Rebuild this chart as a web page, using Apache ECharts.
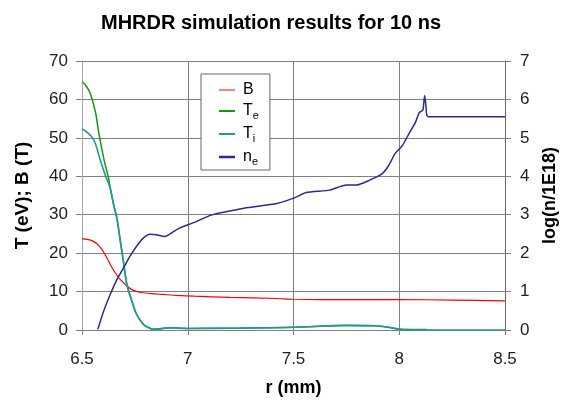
<!DOCTYPE html>
<html>
<head>
<meta charset="utf-8">
<script src="https://cdn.jsdelivr.net/npm/echarts@6/dist/echarts.min.js"></script>
<style>html,body{margin:0;padding:0;background:#fff;}#c{width:567px;height:402px;}</style>
</head>
<body>
<div id="c"></div>
<script>
// x ticks / axis ranges
var xTicks = [6.5, 7, 7.5, 8, 8.5];
var leftTicks = [0, 10, 20, 30, 40, 50, 60, 70];
var rightTicks = [0, 1, 2, 3, 4, 5, 6, 7];

// B (T)
var rB = [6.5,6.53,6.556,6.575,6.595,6.61,6.626,6.64,6.657,6.675,6.696,6.715,6.735,6.76,6.79,6.83,6.883,6.95,7.03,7.2,7.42,7.5,7.75,8.0,8.25,8.5];
var vB = [23.7,23.5,23.0,22.2,20.9,19.5,17.9,16.4,14.9,13.5,12.3,11.3,10.5,10.0,9.7,9.45,9.25,9.0,8.8,8.5,8.2,8.0,7.9,7.9,7.8,7.6];

// Te (eV)
var rTe = [6.5,6.52,6.54,6.564,6.579,6.603,6.626,6.634,6.65,6.665,6.68,6.695,6.712,6.736,6.758,6.79,6.815,6.836,6.87,6.914,7.0,7.25,7.5,7.75,7.89,7.95,7.98,8.03,8.13];
var vTe = [64.6,63.5,61.4,56.6,51.5,44.6,39.4,36.8,32.5,29.1,23.6,18.1,11.9,7.5,4.1,1.5,0.6,0.2,0.3,0.6,0.4,0.5,0.7,1.2,1.1,0.7,0.4,0.1,0.1];

// Ti (eV)
var rTi = [6.5,6.515,6.533,6.55,6.564,6.587,6.61,6.634,6.65,6.665,6.68,6.695,6.712,6.736,6.758,6.79,6.815,6.836,6.87,6.914,7.0,7.25,7.5,7.75,7.89,7.95,7.98,8.03,8.2,8.5];
var vTi = [52.3,51.8,51.0,50.0,48.4,44.1,40.3,36.8,32.5,29.1,23.6,18.1,11.9,7.5,4.1,1.5,0.6,0.2,0.3,0.6,0.4,0.5,0.7,1.2,1.1,0.7,0.4,0.1,0.0,0.0];

// ne, log(n/1E18)
var rNe = [6.575,6.603,6.634,6.665,6.696,6.727,6.758,6.79,6.82,6.852,6.89,6.922,6.96,7.007,7.04,7.11,7.266,7.422,7.51,7.56,7.67,7.75,7.796,7.86,7.92,7.95,7.98,8.015,8.045,8.077,8.095,8.107,8.113,8.12,8.125,8.13,8.138,8.3,8.5];
var vNe = [0.02,0.5,0.93,1.31,1.61,1.92,2.18,2.39,2.49,2.48,2.43,2.52,2.65,2.75,2.82,2.99,3.17,3.29,3.45,3.58,3.64,3.77,3.77,3.9,4.07,4.28,4.59,4.8,5.1,5.41,5.66,5.7,5.75,6.1,5.9,5.6,5.55,5.55,5.55];

function zip(a, b) { return a.map(function (x, i) { return [x, b[i]]; }); }

var legendNames = { 'B': '{m|B}', 'Te': '{m|T}{s|e}', 'Ti': '{m|T}{s|i}', 'ne': '{m|n}{s|e}' };
var FONT = 'Liberation Sans, Arial, sans-serif';

var chart = echarts.init(document.getElementById('c'));
var gridColor = '#808080';
chart.setOption({
  animation: false,
  backgroundColor: '#fff',
  title: {
    text: 'MHRDR simulation results for 10 ns',
    left: 96, top: 8,
    textStyle: { fontFamily: FONT, fontSize: 20, fontWeight: 'bold', color: '#000' }
  },
  grid: { left: 82, right: 58, top: 61, bottom: 70 },
  legend: {
    orient: 'vertical',
    left: 201, top: 74,
    padding: [8, 11, 3, 18],
    itemGap: 5,
    itemWidth: 16, itemHeight: 14,
    backgroundColor: '#fff',
    borderColor: '#666', borderWidth: 1, borderRadius: 0,
    formatter: function (n) { return legendNames[n]; },
    textStyle: {
      fontFamily: FONT, color: '#000',
      padding: [0, 0, 0, 3],
      rich: {
        m: { fontSize: 16, lineHeight: 20, color: '#000', fontFamily: FONT },
        s: { fontSize: 11, lineHeight: 6, verticalAlign: 'bottom', color: '#000', fontFamily: FONT }
      }
    },
    data: [
      { name: 'B', icon: 'path://M0,6.5h16v1h-16z', itemStyle: { color: '#ff0000' } },
      { name: 'Te', icon: 'path://M0,6h16v2h-16z', itemStyle: { color: '#139a13' } },
      { name: 'Ti', icon: 'path://M0,6h16v2h-16z', itemStyle: { color: '#1f9a9a' } },
      { name: 'ne', icon: 'path://M0,5.75h16v2.5h-16z', itemStyle: { color: '#2a2a96' } }
    ]
  },
  xAxis: {
    type: 'value', min: xTicks[0], max: xTicks[xTicks.length - 1], interval: 0.5,
    name: 'r (mm)', nameLocation: 'middle', nameGap: 49,
    nameTextStyle: { fontFamily: FONT, fontSize: 18, fontWeight: 'bold', color: '#000' },
    axisLine: { lineStyle: { color: gridColor } },
    axisTick: { show: true, length: 5, lineStyle: { color: gridColor } },
    axisLabel: { margin: 21, fontSize: 17, color: '#222', fontFamily: FONT },
    splitLine: { show: true, lineStyle: { color: gridColor, width: 1 } }
  },
  yAxis: [
    {
      type: 'value', min: leftTicks[0], max: leftTicks[leftTicks.length - 1], interval: 10,
      name: 'T (eV); B (T)', nameLocation: 'middle', nameGap: 50,
      nameTextStyle: { fontFamily: FONT, fontSize: 19, fontWeight: 'bold', color: '#000' },
      axisLine: { show: true, lineStyle: { color: '#a6a6a6' } },
      axisTick: { show: true, length: 6, lineStyle: { color: gridColor } },
      axisLabel: { margin: 14, fontSize: 17, color: '#222', fontFamily: FONT },
      splitLine: { show: true, lineStyle: { color: gridColor, width: 1 } }
    },
    {
      type: 'value', position: 'right', min: rightTicks[0], max: rightTicks[rightTicks.length - 1], interval: 1,
      name: 'log(n/1E18)', nameLocation: 'middle', nameGap: 36,
      nameTextStyle: { fontFamily: FONT, fontSize: 18, fontWeight: 'bold', color: '#000' },
      axisLine: { show: true, lineStyle: { color: '#666' } },
      axisTick: { show: true, length: 6, lineStyle: { color: gridColor } },
      axisLabel: { margin: 15, fontSize: 17, color: '#222', fontFamily: FONT },
      splitLine: { show: false }
    }
  ],
  series: [
    { name: 'B', type: 'line', yAxisIndex: 0, symbol: 'none', smooth: 0.3, data: zip(rB, vB),
      lineStyle: { color: '#ff0000', width: 1.2 }, itemStyle: { color: '#ff0000' }, z: 3 },
    { name: 'Te', type: 'line', yAxisIndex: 0, symbol: 'none', smooth: 0.3, data: zip(rTe, vTe),
      lineStyle: { color: '#139a13', width: 1.5 }, itemStyle: { color: '#139a13' }, z: 2 },
    { name: 'Ti', type: 'line', yAxisIndex: 0, symbol: 'none', smooth: 0.3, data: zip(rTi, vTi),
      lineStyle: { color: '#1f9a9a', width: 1.6 }, itemStyle: { color: '#1f9a9a' }, z: 3 },
    { name: 'ne', type: 'line', yAxisIndex: 1, symbol: 'none', smooth: 0.2, data: zip(rNe, vNe),
      lineStyle: { color: '#2a2a96', width: 1.5 }, itemStyle: { color: '#2a2a96' }, z: 4 }
  ]
});
</script>
</body>
</html>
